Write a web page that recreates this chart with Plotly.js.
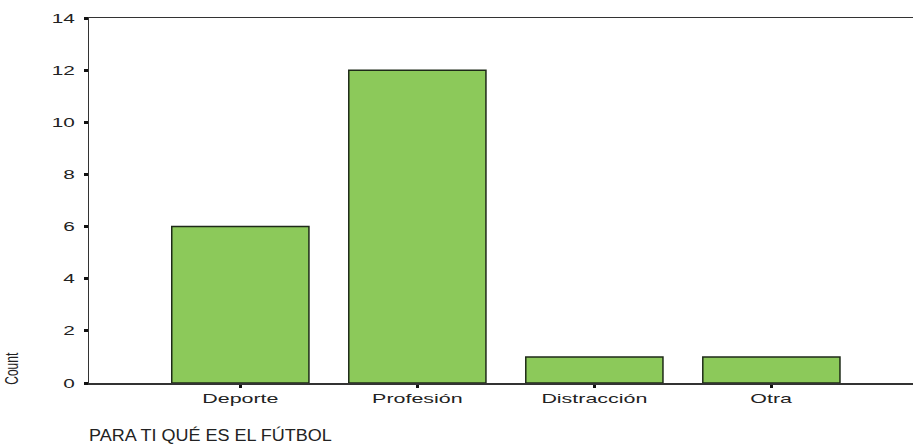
<!DOCTYPE html>
<html><head><meta charset="utf-8">
<script src="https://cdn.plot.ly/plotly-3.0.1.min.js"></script>
<style>html,body{margin:0;padding:0;background:#fff}#chart{width:913px;height:444px}</style>
</head><body><div id="chart"></div>
<script>
const categories = ["Deporte", "Profesión", "Distracción", "Otra"];
const counts = [6, 12, 1, 1];
const yTicks = [0, 2, 4, 6, 8, 10, 12, 14];
const xTitle = "PARA TI QUÉ ES EL FÚTBOL";
const yTitle = "Count";

const trace = {
  type: "bar",
  x: categories,
  y: counts,
  marker: {color: "#8cc95a", line: {color: "#1e2a18", width: 1.5}},
  hoverinfo: "x+y"
};
const layout = {
  width: 913, height: 444,
  margin: {l: 89, r: 0, t: 18, b: 61},
  paper_bgcolor: "#fff", plot_bgcolor: "#fff",
  bargap: 0.225,
  showlegend: false,
  font: {family: "Liberation Sans, Arial, sans-serif", color: "#222"},
  xaxis: {
    type: "category",
    range: [-0.855, 3.8],
    showline: true, linecolor: "#333", linewidth: 1.5, mirror: true,
    ticks: "outside", ticklen: 3, tickwidth: 3, tickcolor: "#111",
    showgrid: false, zeroline: false,
    tickfont: {size: 13, color: "#222"}
  },
  yaxis: {
    range: [0, 14],
    tickvals: yTicks,
    showline: true, linecolor: "#333", linewidth: 1.5,
    ticks: "outside", ticklen: 4, tickwidth: 3, tickcolor: "#111",
    ticklabelstandoff: 6,
    showgrid: false, zeroline: false,
    tickfont: {size: 13, color: "#222"}
  },
  annotations: [
    {
      text: yTitle, xref: "paper", yref: "paper", x: -0.093, y: 0.04,
      xanchor: "center", yanchor: "middle", textangle: -90, showarrow: false,
      font: {size: 12, color: "#222"}
    },
    {
      text: xTitle, xref: "paper", yref: "paper", x: -0.002, y: -0.143,
      xanchor: "left", yanchor: "middle", showarrow: false,
      font: {size: 17, color: "#222"}
    }
  ]
};

function stretch(el, sx, sy, mode) {
  const bb = el.getBBox();
  let ox = bb.x + bb.width / 2;
  if (mode === "right") ox = bb.x + bb.width;
  if (mode === "left") ox = bb.x;
  const oy = bb.y + bb.height / 2;
  const t = el.getAttribute("transform") || "";
  el.setAttribute("transform", t + ` translate(${ox},${oy}) scale(${sx},${sy}) translate(${-ox},${-oy})`);
}

Plotly.newPlot("chart", [trace], layout, {displayModeBar: false, staticPlot: true}).then(gd => {
  gd.querySelectorAll(".xtick text").forEach(el => stretch(el, 1.65, 1, "center"));
  gd.querySelectorAll(".ytick text").forEach(el => stretch(el, 1.6, 1, "right"));
  const ann = gd.querySelectorAll(".annotation-text");
  if (ann[0]) stretch(ann[0], 1, 1.5, "center");
  if (ann[1]) stretch(ann[1], 1.06, 1, "left");
});
</script></body></html>
